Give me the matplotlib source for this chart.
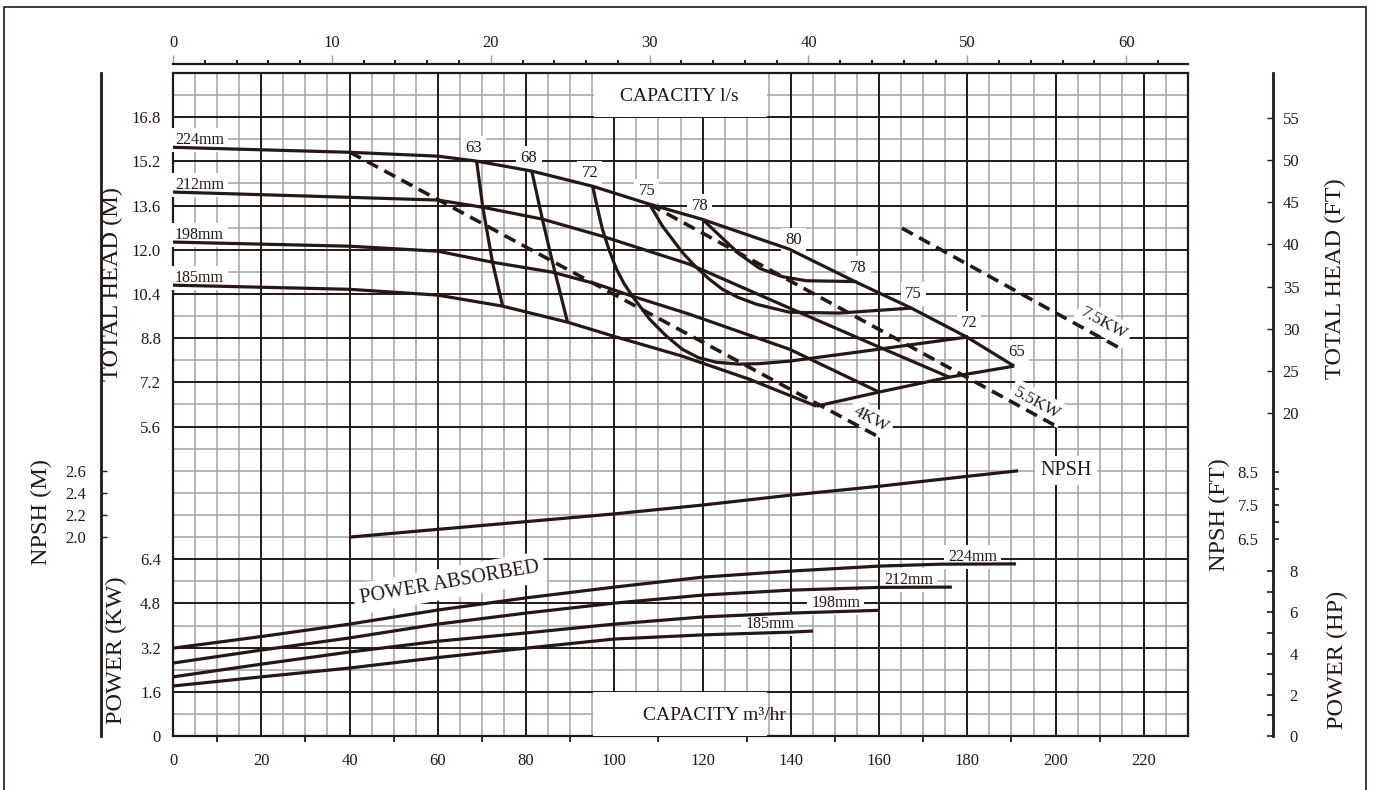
import numpy as np
import matplotlib.pyplot as plt
from matplotlib.patches import Rectangle
from matplotlib.ticker import FixedLocator, MultipleLocator

plt.rcParams['font.family'] = ['Liberation Serif', 'DejaVu Serif']

INK = '#231815'
GRAY = '#a3a3a3'
M2FT = 3.28084
KW2HP = 1 / 0.7457
LS2M3H = 3.6

# 扬程曲线: 流量 (m3/hr) - 扬程 (m)
q_224 = [0, 40, 60, 68.8, 81.3, 95.1, 108.0, 120.0, 139.7, 154.8, 167.3, 179.9, 190.6]
h_224 = [15.71, 15.53, 15.39, 15.21, 14.85, 14.30, 13.65, 13.10, 12.02, 10.83, 9.89, 8.84, 7.79]
q_212 = [0, 40, 60, 70.2, 83.7, 97.3, 117.0, 139.7, 160.0, 175.9]
h_212 = [14.09, 13.90, 13.80, 13.54, 13.11, 12.49, 11.48, 9.89, 8.48, 7.39]
q_198 = [0, 40, 60, 72.4, 86.0, 96.0, 104.1, 117.0, 139.7, 160.0]
h_198 = [12.28, 12.13, 11.95, 11.55, 11.19, 10.76, 10.32, 9.67, 8.40, 6.85]
q_185 = [0, 40, 60, 74.7, 89.4, 100.5, 115.4, 130.5, 145.8]
h_185 = [10.72, 10.57, 10.36, 9.96, 9.38, 8.84, 8.15, 7.32, 6.34]
diameters = ['224mm', '212mm', '198mm', '185mm']

# 等效率线 (%)
q_e63 = [68.8, 70.2, 72.4, 74.7]
h_e63 = [15.21, 13.54, 11.55, 9.96]
q_e68 = [81.3, 83.7, 86.0, 89.4]
h_e68 = [14.85, 13.11, 11.55, 9.38]
q_e72 = [95.1, 96.2, 97.3, 98.8, 100.5, 102.2, 104.1, 108.0, 111.5, 115.4, 119.0, 123.1, 128.3, 133.0, 139.7, 154.8, 179.9]
h_e72 = [14.30, 13.50, 12.75, 12.00, 11.30, 10.78, 10.32, 9.49, 8.92, 8.40, 8.10, 7.93, 7.86, 7.88, 7.97, 8.29, 8.84]
q_e75 = [108.0, 110.9, 115.4, 118.5, 121.5, 124.5, 128.0, 132.2, 139.7, 151.0, 167.3]
h_e75 = [13.65, 12.86, 11.91, 11.38, 10.94, 10.57, 10.28, 10.03, 9.74, 9.71, 9.89]
q_e78 = [120.0, 124.5, 128.3, 132.9, 138.0, 143.5, 154.8]
h_e78 = [13.10, 12.42, 11.85, 11.33, 11.03, 10.88, 10.85]
q_e65 = [145.8, 160.0, 175.9, 190.6]
h_e65 = [6.34, 6.85, 7.39, 7.79]
best_eff = '80'

# 等功率线 (kW)
kw_labels = ['4KW', '5.5KW', '7.5KW']
q_4kw, h_4kw = [40.1, 160.0], [15.53, 5.22]
q_55kw, h_55kw = [108.0, 200.1], [13.65, 5.62]
q_75kw, h_75kw = [165.2, 215.0], [12.78, 8.40]

# 汽蚀余量 NPSH (m)
q_npsh = [40, 60, 80, 100, 120, 140, 160, 180, 191.5]
npsh = [2.00, 2.07, 2.14, 2.21, 2.29, 2.38, 2.46, 2.55, 2.60]

# 轴功率 (kW)
q_p224 = [0, 20, 40, 60, 80, 100, 120, 140, 160, 174, 191]
p_224 = [3.18, 3.60, 4.05, 4.56, 5.00, 5.39, 5.75, 5.97, 6.15, 6.22, 6.23]
q_p212 = [0, 20, 40, 60, 80, 100, 120, 140, 160, 176.5]
p_212 = [2.64, 3.11, 3.55, 4.05, 4.45, 4.81, 5.10, 5.28, 5.38, 5.39]
q_p198 = [0, 20, 40, 60, 80, 100, 120, 140, 160]
p_198 = [2.14, 2.60, 3.04, 3.43, 3.73, 4.05, 4.31, 4.45, 4.55]
q_p185 = [0, 20, 40, 60, 80, 100, 120, 140, 145]
p_185 = [1.81, 2.14, 2.46, 2.84, 3.18, 3.51, 3.66, 3.76, 3.80]

W, H = 1373, 790
PT = 0.72  # 1 px in points at dpi 100
FS = 12


def fpos(x, y):
    return x / W, 1 - y / H


fig = plt.figure(figsize=(W / 100, H / 100), dpi=100)
rect = [173 / W, 54 / H, 1015 / W, 663 / H]
ax = fig.add_axes(rect)
ax.set_xlim(0, 230)
ax.set_ylim(-5.6, 18.4)


def overlay(name, ylim):
    a = fig.add_axes(rect, label=name, sharex=ax)
    a.set_ylim(*ylim)
    a.patch.set_visible(False)
    for s in a.spines.values():
        s.set_visible(False)
    a.xaxis.set_visible(False)
    a.tick_params(axis='y', colors=INK, labelsize=FS)
    return a


ax_kw = overlay('kw', (0, 24))
ax_npsh = overlay('npsh', (0.2, 6.2))
ax_ft = overlay('ft', (-5.6 * M2FT, 18.4 * M2FT))
ax_nft = overlay('nft', (0.2 * M2FT, 6.2 * M2FT))
ax_hp = overlay('hp', (0, 24 * KW2HP))

# 网格
y0, y1 = ax.get_ylim()
cols = np.arange(5, 230, 5)
rows = y0 + 0.8 * np.arange(1, 30)
dark_rows = [2, 4, 6, 8, 14, 16, 18, 20, 22, 24, 26, 28]
ax.vlines(cols[cols % 20 != 0], y0, y1, colors=GRAY, lw=1.1, zorder=1)
ax.hlines([r for i, r in enumerate(rows, 1) if i not in dark_rows], 0, 230, colors=GRAY, lw=1.1, zorder=1)
ax.vlines(cols[cols % 20 == 0], y0, y1, colors=INK, lw=1.4, zorder=1.5)
ax.hlines([r for i, r in enumerate(rows, 1) if i in dark_rows], 0, 230, colors=INK, lw=1.4, zorder=1.5)
for s in ax.spines.values():
    s.set_linewidth(1.6)
    s.set_color(INK)

box = dict(boxstyle='square,pad=0.25', fc='white', ec='none')
curve = dict(color=INK, lw=2.3, zorder=4, solid_joinstyle='round', solid_capstyle='butt')

# 扬程曲线
for name, q, h in zip(diameters, [q_224, q_212, q_198, q_185], [h_224, h_212, h_198, h_185]):
    ax.plot(q, h, **curve)
    ax.annotate(name, (q[0], h[0]), xytext=(1.5, 2.5), textcoords='offset points',
                ha='left', va='baseline', fontsize=11.5, color=INK, bbox=box, zorder=3)

# 效率线
eff = [('63', q_e63, h_e63, True, False), ('68', q_e68, h_e68, True, False),
       ('72', q_e72, h_e72, True, True), ('75', q_e75, h_e75, True, True),
       ('78', q_e78, h_e78, True, True), ('65', q_e65, h_e65, False, True)]
for lab, q, h, top, right in eff:
    ax.plot(q, h, **curve)
    if top:
        ax.annotate(lab, (q[0], h[0]), xytext=(-2, 9.5), textcoords='offset points',
                    ha='center', va='center', fontsize=FS, color=INK, bbox=box, zorder=3)
    if right:
        ax.annotate(lab, (q[-1], h[-1]), xytext=(1.5, 10), textcoords='offset points',
                    ha='center', va='center', fontsize=FS, color=INK, bbox=box, zorder=3)
ax.annotate(best_eff, (q_224[8], h_224[8]), xytext=(3, 6.5), textcoords='offset points',
            ha='center', va='center', fontsize=FS, color=INK, bbox=box, zorder=3)

# 功率线
kw_offsets = [(-6, 13), (-13.5, 16.5), (-13, 18.5)]
for lab, q, h, off in zip(kw_labels, [q_4kw, q_55kw, q_75kw], [h_4kw, h_55kw, h_75kw], kw_offsets):
    ax.plot(q, h, color=INK, lw=2.6, ls=(0, (3.4, 2.0)), zorder=4)
    p0, p1 = ax.transData.transform([(q[0], h[0]), (q[1], h[1])])
    ang = np.degrees(np.arctan2(p1[1] - p0[1], p1[0] - p0[0]))
    ax.annotate(lab, (q[1], h[1]), xytext=off, textcoords='offset points', rotation=ang,
                rotation_mode='anchor', ha='center', va='center', fontsize=12.5, color=INK,
                bbox=box, zorder=3)

# 标题框
ax.add_patch(Rectangle((95.3, 16.8), 39.3, 1.6, fc='white', ec='none', zorder=2))
ax.text(114.8, 17.56, 'CAPACITY l/s', ha='center', va='center', fontsize=14, color=INK, zorder=3)

# NPSH
ax_npsh.plot(q_npsh, npsh, **curve)
ax_npsh.annotate('NPSH', (q_npsh[-1], npsh[-1]), xytext=(34.5, 0), textcoords='offset points',
                 ha='center', va='center', fontsize=14.5, color=INK, bbox=box, zorder=3)

# 功率曲线
for name, q, p in zip(diameters, [q_p224, q_p212, q_p198, q_p185], [p_224, p_212, p_198, p_185]):
    ax_kw.plot(q, p, **curve)
    ax_kw.annotate(name, (q[-1], p[-1]), xytext=(-13.5, 2.2), textcoords='offset points',
                   ha='right', va='baseline', fontsize=11.5, color=INK, bbox=box, zorder=3)
ax_kw.text(62.6, 5.54, 'POWER ABSORBED', rotation=10, ha='center', va='center',
           fontsize=14.5, color=INK, bbox=dict(boxstyle='square,pad=0.3', fc='white', ec='none'), zorder=3)
ax_kw.add_patch(Rectangle((95.1, 0), 39.6, 1.6, fc='white', ec='none', zorder=2))
ax_kw.text(122.7, 0.76, 'CAPACITY m³/hr', ha='center', va='center', fontsize=14, color=INK, zorder=3)

# 左侧坐标
ax.set_yticks(np.arange(5.6, 16.81, 1.6))
ax.set_yticklabels([f'{v:.1f}' for v in np.arange(5.6, 16.81, 1.6)])
ax.tick_params(axis='y', length=0, pad=8.6, labelsize=FS, colors=INK)
kw_ticks = [0, 1.6, 3.2, 4.8, 6.4]
ax_kw.set_yticks(kw_ticks)
ax_kw.set_yticklabels(['0'] + [f'{v:.1f}' for v in kw_ticks[1:]])
ax_kw.tick_params(axis='y', length=0, pad=8.6)

ax_npsh.spines['left'].set_visible(True)
ax_npsh.spines['left'].set_position(('outward', 72 * PT))
ax_npsh.spines['left'].set_linewidth(2)
ax_npsh.spines['left'].set_color(INK)
ax_npsh.set_yticks([2.0, 2.2, 2.4, 2.6])
ax_npsh.set_yticklabels(['2.0', '2.2', '2.4', '2.6'])
ax_npsh.tick_params(axis='y', direction='in', length=4.5, width=1, pad=11)

# 右侧坐标
ax_ft.yaxis.tick_right()
ax_ft.spines['right'].set_visible(True)
ax_ft.spines['right'].set_position(('outward', 85 * PT))
ax_ft.spines['right'].set_linewidth(2)
ax_ft.spines['right'].set_color(INK)
ax_ft.set_yticks(np.arange(20, 56, 5))
ax_ft.tick_params(axis='y', direction='in', length=4.5, width=1, pad=7)

ax_hp.yaxis.tick_right()
ax_hp.spines['right'].set_position(('outward', 85 * PT))
ax_hp.set_yticks([0, 2, 4, 6, 8])
ax_hp.yaxis.set_minor_locator(FixedLocator([1, 3, 5, 7]))
ax_hp.tick_params(axis='y', which='both', direction='in', length=4.5, width=1.2, pad=12, colors=INK)

ax_nft.spines['left'].set_position(('axes', 1100 / 1015))
ax_nft.set_yticks([6.5, 7.5, 8.5])
ax_nft.set_yticklabels(['6.5', '7.5', '8.5'])
ax_nft.yaxis.set_minor_locator(FixedLocator([7.0, 8.0]))
ax_nft.tick_params(axis='y', which='both', direction='in', length=4.5, width=1.2, pad=10.5, colors=INK)

# 下侧坐标 (m3/hr)
ax.set_xticks(range(0, 221, 20))
ax.xaxis.set_minor_locator(FixedLocator(range(10, 230, 20)))
ax.tick_params(axis='x', which='major', length=0, pad=12.5, labelsize=FS, colors=INK)
ax.tick_params(axis='x', which='minor', length=4, width=1.3, direction='out', color=INK)

# 上侧坐标 (l/s)
sec = ax.secondary_xaxis(1 + 9 / 663, functions=(lambda q: q / LS2M3H, lambda l: l * LS2M3H))
sec.set_xticks(range(0, 61, 10))
sec.xaxis.set_minor_locator(MultipleLocator(2))
sec.tick_params(which='major', length=6.5, width=1, color=GRAY, labelcolor=INK, labelsize=FS, pad=3)
sec.tick_params(which='minor', length=3, width=1.4, color=INK)
for s in sec.spines.values():
    s.set_linewidth(1.6)
    s.set_color(INK)

# 轴标题
titles = [('TOTAL HEAD (M)', 112, 284), ('NPSH (M)', 41, 512), ('POWER (KW)', 116, 650),
          ('TOTAL HEAD (FT)', 1335, 279), ('NPSH (FT)', 1219, 515), ('POWER (HP)', 1337, 660)]
for t, x, y in titles:
    fig.text(*fpos(x, y), t, rotation=90, ha='center', va='center', fontsize=17.5, color=INK)

# 外框
fig.add_artist(Rectangle((4 / W, -0.02), 1362 / W, 1.02 - 7 / H, transform=fig.transFigure,
                         fill=False, ec=INK, lw=1.2))

fig.savefig('out.png', dpi=100)
